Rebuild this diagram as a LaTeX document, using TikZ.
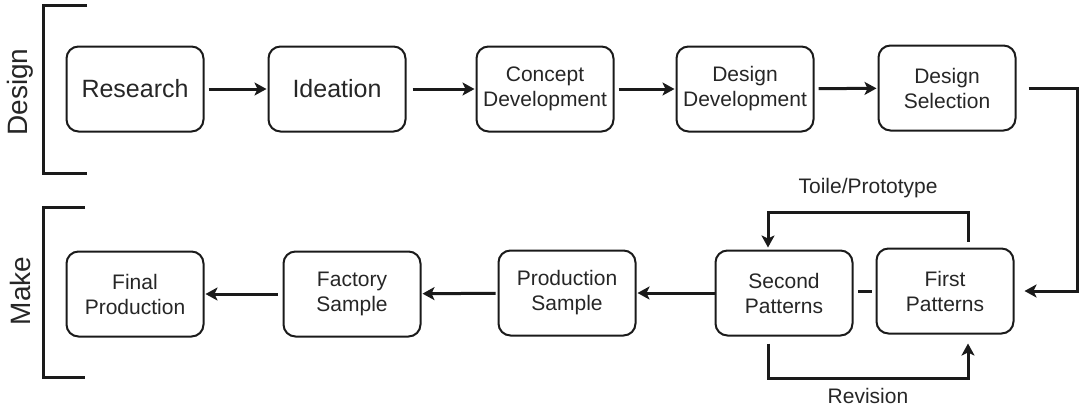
\documentclass[tikz,border=0pt]{standalone}
\usepackage{fontspec}
\setmainfont{Liberation Sans}
\usetikzlibrary{arrows.meta}
\definecolor{ink}{HTML}{1A1A1A}
\definecolor{txt}{HTML}{262626}
\tikzset{
  stage/.style={draw=ink, line width=2pt, rounded corners=12pt, minimum width=137pt,
    minimum height=85pt, align=center, text=txt, inner sep=0pt,
    font=\fontsize{21}{25}\selectfont},
  bigstage/.style={stage, font=\fontsize{25}{30}\selectfont},
  flow/.style={draw=ink, line width=3pt, -{Stealth[length=12pt,width=13pt,inset=3pt]}},
  plain/.style={draw=ink, line width=3pt},
  bracket/.style={draw=ink, line width=3pt},
  phase/.style={rotate=90, text=txt, font=\fontsize{28}{32}\selectfont},
  tag/.style={text=txt, font=\fontsize{21}{25}\selectfont}
}
\begin{document}
\begin{tikzpicture}[x=1pt,y=-1pt]
\useasboundingbox (0,0) rectangle (1084,410);

% design phase
\node[bigstage] (res) at (135,89) {Research};
\node[bigstage] (ide) at (337,89) {Ideation};
\node[stage] (con) at (545,89) {Concept\\Development};
\node[stage] (ddv) at (745,89) {Design\\Development};
\node[stage] (sel) at (947,88) {Design\\Selection};

% make phase
\node[stage] (fin) at (135,294) {Final\\Production};
\node[stage] (fac) at (352,294) {Factory\\Sample};
\node[stage] (pro) at (567,293) {Production\\Sample};
\node[stage] (sec) at (784,293) {Second\\Patterns};
\node[stage] (fir) at (945,291) {First\\Patterns};

% phase brackets
\coordinate (dtop) at (87,5);
\coordinate (dbot) at (87,173);
\draw[bracket] (dtop) -- (43,5) -- (43,173) -- (dbot);
\node[phase] (dlab) at (20,92) {Design};
\coordinate (mtop) at (85,207);
\coordinate (mbot) at (85,377);
\draw[bracket] (mtop) -- (43,207) -- (43,377) -- (mbot);
\node[phase] (mlab) at (20,291) {Make};

% design flow
\draw[flow, shorten <=4pt, shorten >=1pt] (res) -- (ide);
\draw[flow, shorten <=6pt, shorten >=1pt] (ide) -- (con);
\draw[flow, shorten <=4pt, shorten >=1pt] (con) -- (ddv);
\draw[flow, shorten <=4pt, shorten >=1pt] (ddv) -- (sel);

% hand-over to the make phase
\draw[flow, shorten <=12pt, shorten >=10pt] (sel.east) -- ++(61,0) |- (fir.east);

% pattern loop
\draw[plain, shorten <=4pt, shorten >=4pt] (fir.west) -- (fir.west -| sec.east);
\draw[flow, shorten <=6pt, shorten >=2pt] ([xshift=23pt]fir.north) |- ++(0,-35) -| ([xshift=-16pt]sec.north);
\node[tag] (toile) at (868,188) {Toile/Prototype};
\draw[flow, shorten <=7pt, shorten >=9pt] ([xshift=-16pt]sec.south) |- ++(0,42) -| ([xshift=23pt]fir.south);
\node[tag] (rev) at (868,396) {Revision};

% production flow
\draw[flow, shorten <=0pt, shorten >=1pt] (sec) -- (pro);
\draw[flow, shorten <=2pt, shorten >=1pt] (pro) -- (fac);
\draw[flow, shorten <=5pt, shorten >=1pt] (fac) -- (fin);
\end{tikzpicture}
\end{document}
